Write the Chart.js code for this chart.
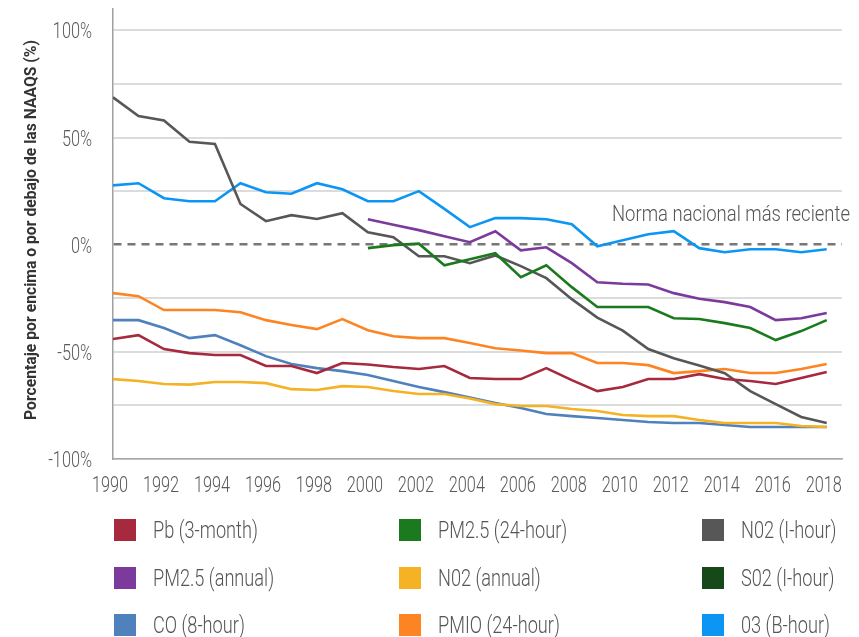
<!DOCTYPE html>
<html>
<head>
<meta charset="utf-8">
<script src="https://cdn.jsdelivr.net/npm/chart.js@4/dist/chart.umd.min.js"></script>
<style>
  body { margin: 0; background: #fff; }
</style>
</head>
<body>
<canvas id="chart" width="859" height="637"></canvas>
<script>
const years = [1990, 1991, 1992, 1993, 1994, 1995, 1996, 1997, 1998, 1999, 2000, 2001, 2002, 2003, 2004,
               2005, 2006, 2007, 2008, 2009, 2010, 2011, 2012, 2013, 2014, 2015, 2016, 2017, 2018];
const yearTicks = [1990, 1992, 1994, 1996, 1998, 2000, 2002, 2004, 2006, 2008, 2010, 2012, 2014, 2016, 2018];
const percentTicks = [-100, -75, -50, -25, 0, 25, 50, 75, 100];

const pb3month = [-44, -42.2, -48.7, -50.6, -51.5, -51.5, -56.6, -56.6, -59.9, -55.2, -55.9, -57.1, -58, -56.6, -62.2,
                  -62.7, -62.7, -57.6, -63.2, -68.3, -66.4, -62.7, -62.7, -60.4, -62.7, -63.6, -65, -62.2, -59.4];
const pm25day = [null, null, null, null, null, null, null, null, null, null, -1.6, -0.2, 0.5, -9.6, -6.8,
                 -4, -15.2, -9.6, -19.8, -29.1, -29.1, -29.1, -34.3, -34.7, -36.6, -38.9, -44.5, -40.3, -35.2];
const no2hour = [68.8, 60, 58, 48, 47, 19, 11, 13.8, 12, 14.7, 5.8, 3.5, -5.4, -5.4, -8.6,
                 -5, -10, -15.6, -25.4, -34, -40.1, -48.7, -53, -56.4, -60, -68.3, -74.4, -80.4, -83.2];
const pm25year = [null, null, null, null, null, null, null, null, null, null, 11.9, 9.3, 6.8, 4, 1.2,
                  6.3, -2.6, -1.2, -8.6, -17.5, -18.2, -18.6, -22.6, -25.2, -26.8, -29.1, -35.2, -34.3, -31.9];
const no2year = [-62.7, -63.6, -65, -65.3, -64.1, -64.1, -64.6, -67.4, -67.8, -66, -66.4, -68.3, -69.7, -69.7, -71.8,
                 -74.4, -75.3, -75.3, -76.7, -77.6, -79.5, -80, -80, -81.8, -83.2, -83.2, -83.2, -84.6, -85.1];
const so2hour = [];
const co8hour = [-35.2, -35.2, -38.9, -43.6, -42.2, -46.9, -52, -55.7, -57.6, -59, -60.8, -63.6, -66.4, -68.8, -71.3,
                 -73.9, -76.2, -79, -80, -80.9, -81.8, -82.7, -83.2, -83.2, -84.1, -85.1, -85.1, -85.1, -85.1];
const pm10day = [-22.6, -24, -30.5, -30.5, -30.5, -31.5, -35.2, -37.5, -39.4, -34.7, -39.9, -42.7, -43.6, -43.6, -45.9,
                 -48.3, -49.4, -50.6, -50.6, -55.2, -55.2, -56.2, -59.9, -59, -58, -59.9, -59.9, -58, -55.7];
const o3hour = [27.7, 28.7, 21.7, 20.3, 20.3, 28.7, 24.5, 23.8, 28.7, 25.9, 20.3, 20.3, 25, 16.7, 8.2,
                12.4, 12.4, 11.9, 9.6, -0.7, 2.1, 4.9, 6.3, -1.6, -3.5, -2.1, -2.1, -3.5, -2.1];

const seriesNames = ['Pb (3-month)', 'PM2.5 (24-hour)', 'N02 (I-hour)',
                     'PM2.5 (annual)', 'N02 (annual)', 'S02 (I-hour)',
                     'CO (8-hour)', 'PMIO (24-hour)', '03 (B-hour)'];
const seriesData = [pb3month, pm25day, no2hour, pm25year, no2year, so2hour, co8hour, pm10day, o3hour];
const seriesColors = ['#a6293d', '#1b7a1e', '#575757', '#7b3a9c', '#f4b224', '#15491a', '#4f81bd', '#fd8423', '#0c96f4'];

const yTitle = 'Porcentaje por encima o por debajo de las NAAQS (%)';
const normaText = 'Norma nacional más reciente';

const FONT = 'Roboto, "Liberation Sans", sans-serif';
// the original uses a condensed face, so text gets squeezed sideways
const TICK_SQUEEZE = 0.74;
const LEGEND_SQUEEZE = 0.79;
const NORMA_SQUEEZE = 0.84;

const datasets = seriesNames.map((name, i) => ({
    label: name,
    data: seriesData[i].map((v, j) => ({ x: years[j], y: v })),
    borderColor: seriesColors[i],
    backgroundColor: seriesColors[i],
    borderWidth: 2.6,
    pointRadius: 0,
    tension: 0
}));

function squeezed(ctx, text, x, y, align, sx) {
    ctx.save();
    ctx.translate(x, y);
    ctx.scale(sx, 1);
    ctx.textAlign = align;
    ctx.fillText(text, 0, 0);
    ctx.restore();
}

const textLayer = {
    id: 'textLayer',
    afterDraw: chart => {
        const ctx = chart.ctx;
        const xs = chart.scales.x, ys = chart.scales.y;
        const area = chart.chartArea;
        ctx.save();
        ctx.textBaseline = 'alphabetic';

        // y tick labels
        ctx.font = '300 22px ' + FONT;
        ctx.fillStyle = '#5a5a5a';
        ys.ticks.forEach(t => {
            if (t.value % 50 !== 0) return;
            squeezed(ctx, t.value + '%', area.left - 21, ys.getPixelForValue(t.value) + 8, 'right', TICK_SQUEEZE);
        });

        // x tick labels
        xs.ticks.forEach(t => {
            squeezed(ctx, String(t.value), xs.getPixelForValue(t.value) - 3, area.bottom + 33, 'center', TICK_SQUEEZE);
        });

        // reference line label
        ctx.fillStyle = '#555';
        squeezed(ctx, normaText, area.right + 8, ys.getPixelForValue(0) - 24, 'right', NORMA_SQUEEZE);

        // y axis title, rotated and fitted to the original length
        ctx.font = 'bold 17px ' + FONT;
        ctx.fillStyle = '#333';
        const w = ctx.measureText(yTitle).width;
        ctx.save();
        ctx.translate(32, (area.top + area.bottom) / 2 - 4);
        ctx.rotate(-Math.PI / 2);
        ctx.scale(380 / w, 1);
        ctx.textAlign = 'center';
        ctx.textBaseline = 'middle';
        ctx.fillText(yTitle, 0, 0);
        ctx.restore();

        // legend, three columns
        const colX = [114, 399, 702];
        const rowY = [530, 578, 625];
        ctx.font = '300 23px ' + FONT;
        seriesNames.forEach((name, i) => {
            const bx = colX[i % 3], cy = rowY[Math.floor(i / 3)];
            ctx.fillStyle = seriesColors[i];
            ctx.fillRect(bx, cy - 11, 22, 22);
            ctx.fillStyle = '#555';
            squeezed(ctx, name, bx + 39, cy + 8, 'left', LEGEND_SQUEEZE);
        });
        ctx.restore();
    }
};

new Chart(document.getElementById('chart'), {
    type: 'line',
    data: { datasets: datasets },
    options: {
        responsive: false,
        animation: false,
        layout: { padding: { top: 9, right: 17, left: 0, bottom: 137 } },
        plugins: { legend: { display: false }, tooltip: { enabled: false } },
        scales: {
            x: {
                type: 'linear',
                min: 1990,
                max: 2018.6,
                afterBuildTicks: s => { s.ticks = yearTicks.map(v => ({ value: v })); },
                afterFit: s => { s.height = 41; s.paddingLeft = 0; s.paddingRight = 0; },
                grid: { display: false },
                border: { color: '#a8a8a8', width: 1.5 },
                ticks: { display: false }
            },
            y: {
                min: -100,
                max: 110,
                afterBuildTicks: s => { s.ticks = percentTicks.map(v => ({ value: v })); },
                afterFit: s => { s.width = 113; s.paddingTop = 0; s.paddingBottom = 0; },
                grid: {
                    drawTicks: false,
                    color: c => c.tick && c.tick.value === 0 ? '#777' : '#dcdcdc',
                    lineWidth: c => c.tick && c.tick.value === 0 ? 2.5 : 2
                },
                border: {
                    color: '#a0a0a0', width: 1.5,
                    dash: c => c.tick && c.tick.value === 0 ? [8, 6] : []
                },
                ticks: { display: false }
            }
        }
    },
    plugins: [textLayer]
});
</script>
</body>
</html>
